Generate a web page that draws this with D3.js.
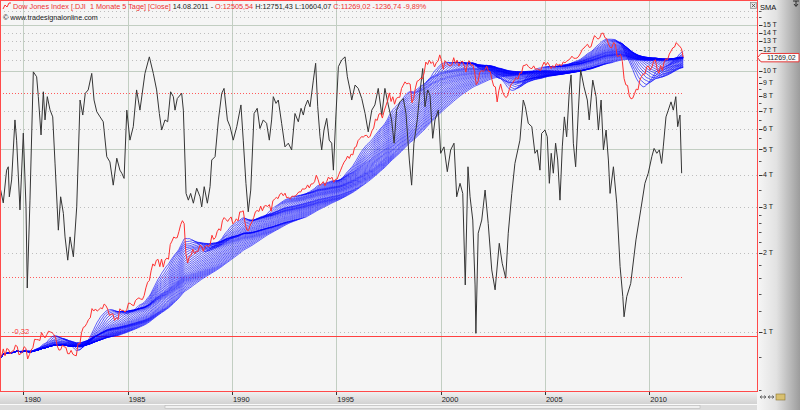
<!DOCTYPE html>
<html><head><meta charset="utf-8">
<script src="https://cdn.jsdelivr.net/npm/d3@7"></script>
<style>
html,body{margin:0;padding:0;background:#f5f5f5;overflow:hidden;}
svg{display:block;font-family:"Liberation Sans",Arial,sans-serif;}
</style></head><body>
<svg id="c" width="800" height="410"></svg>
<script>
// ---------------- DATA ----------------
const firstMonth = { year: 1978, month: 10 }; // Nov 1978 (0-based month)
const closes = [
  799, 805,
  859, 809, 862, 855, 822, 842, 846, 888, 878, 816, 822, 839,
  876, 863, 786, 817, 851, 868, 935, 933, 932, 925, 993, 964,
  947, 975, 1004, 998, 992, 977, 953, 882, 850, 853, 889, 875,
  871, 824, 823, 848, 820, 812, 809, 901, 896, 992, 1039, 1047,
  1076, 1113, 1130, 1226, 1200, 1222, 1199, 1216, 1233, 1225, 1276, 1259,
  1221, 1155, 1165, 1171, 1105, 1132, 1115, 1224, 1207, 1207, 1189, 1212,
  1287, 1284, 1267, 1258, 1315, 1336, 1348, 1334, 1329, 1375, 1472, 1547,
  1571, 1710, 1819, 1784, 1877, 1893, 1775, 1898, 1768, 1878, 1914, 1896,
  2158, 2224, 2305, 2286, 2292, 2419, 2572, 2663, 2596, 1994, 1834, 1939,
  1958, 2072, 1988, 2032, 2031, 2142, 2129, 2032, 2113, 2149, 2115, 2169,
  2342, 2258, 2294, 2419, 2480, 2440, 2661, 2737, 2693, 2645, 2706, 2753,
  2591, 2627, 2707, 2657, 2877, 2881, 2905, 2615, 2453, 2442, 2560, 2634,
  2737, 2882, 2914, 2888, 3028, 2907, 3025, 3044, 3017, 3069, 2895, 3169,
  3224, 3268, 3236, 3359, 3397, 3319, 3394, 3257, 3272, 3226, 3306, 3301,
  3310, 3371, 3435, 3428, 3527, 3516, 3540, 3651, 3555, 3681, 3684, 3754,
  3978, 3832, 3636, 3682, 3758, 3625, 3765, 3913, 3843, 3908, 3739, 3834,
  3844, 4011, 4158, 4321, 4465, 4556, 4709, 4611, 4789, 4756, 5075, 5117,
  5395, 5486, 5588, 5569, 5643, 5655, 5529, 5616, 5882, 6029, 6522, 6448,
  6813, 6878, 6584, 7009, 7331, 7673, 8223, 7622, 7945, 7442, 7823, 7908,
  7907, 8546, 8800, 9063, 8900, 8952, 8883, 7539, 7843, 8592, 9117, 9181,
  9359, 9307, 9786, 10789, 10560, 10971, 10655, 10829, 10337, 10729, 10878, 11497,
  10941, 10128, 10922, 10734, 10522, 10448, 10522, 11215, 10651, 10971, 10415, 10788,
  10887, 10495, 9879, 10735, 10912, 10502, 10523, 9950, 8848, 9075, 9852, 10021,
  9920, 10106, 10404, 9946, 9925, 9243, 8737, 8664, 7592, 8397, 8896, 8342,
  8054, 7891, 7992, 8480, 8850, 8985, 9234, 9416, 9275, 9801, 9782, 10454,
  10488, 10584, 10358, 10226, 10188, 10435, 10140, 10174, 10080, 10027, 10428, 10783,
  10490, 10766, 10504, 10193, 10467, 10275, 10641, 10482, 10569, 10440, 10806, 10718,
  10865, 10993, 11109, 11367, 11168, 11150, 11186, 11381, 11679, 12081, 12222, 12463,
  12622, 12269, 12354, 13063, 13628, 13409, 13212, 13358, 13896, 13930, 13372, 13265,
  12650, 12266, 12263, 12820, 12638, 11350, 11378, 11544, 10851, 9325, 8829, 8776,
  8001, 7800, 7850, 8168, 8500, 8447, 9172, 9496, 9712, 9713, 10345, 10428,
  10067, 10325, 10857, 11009, 10137, 9774, 10466, 10015, 10788, 11118, 11006, 11578,
  11892, 12226, 12320, 12811, 12570, 12414, 12143, 11269
];
const smaPeriods = [12,14,16,18,20,22,24,26,28,30,32,34,36,38,40,42,44,46,48,50,52,54,56,58,60,62,64,66,68,70];

const oscYears = [
  1978.88,1979.04,1979.20,1979.28,1979.33,1979.44,1979.60,1979.68,1979.84,1980.00,
  1980.13,1980.19,1980.32,1980.48,1980.64,1980.72,1980.85,1980.96,1981.04,1981.15,
  1981.28,1981.41,1981.52,1981.68,1981.79,1981.92,1982.00,1982.13,1982.24,1982.40,
  1982.56,1982.72,1982.85,1982.97,1983.11,1983.28,1983.39,1983.52,1983.68,1983.83,
  1984.00,1984.15,1984.31,1984.48,1984.63,1984.72,1984.83,1984.96,1985.11,1985.27,
  1985.43,1985.59,1985.83,1986.04,1986.23,1986.39,1986.52,1986.63,1986.79,1986.92,
  1987.06,1987.19,1987.27,1987.38,1987.59,1987.67,1987.80,1987.91,1988.02,1988.15,
  1988.31,1988.47,1988.55,1988.67,1988.82,1988.95,1989.03,1989.19,1989.35,1989.51,
  1989.62,1989.78,1989.91,1990.06,1990.23,1990.43,1990.54,1990.67,1990.78,1990.90,
  1991.06,1991.21,1991.34,1991.50,1991.66,1991.79,1991.90,1991.98,1992.11,1992.22,
  1992.38,1992.54,1992.70,1992.86,1993.02,1993.18,1993.31,1993.42,1993.50,1993.63,
  1993.74,1993.90,1994.01,1994.11,1994.22,1994.30,1994.41,1994.54,1994.66,1994.78,
  1994.86,1994.97,1995.10,1995.26,1995.42,1995.53,1995.66,1995.74,1995.90,1996.05,
  1996.22,1996.38,1996.53,1996.70,1996.85,1997.01,1997.18,1997.33,1997.49,1997.65,
  1997.77,1997.89,1998.05,1998.21,1998.34,1998.50,1998.61,1998.72,1998.88,1999.01,
  1999.14,1999.25,1999.38,1999.49,1999.62,1999.73,1999.89,2000.00,2000.16,2000.32,
  2000.48,2000.64,2000.77,2000.93,2001.06,2001.18,2001.31,2001.41,2001.54,2001.65,
  2001.69,2001.80,2001.97,2002.13,2002.28,2002.45,2002.61,2002.81,2002.95,2003.12,
  2003.24,2003.41,2003.56,2003.80,2003.96,2004.06,2004.20,2004.37,2004.52,2004.63,
  2004.76,2004.84,2005.00,2005.11,2005.21,2005.30,2005.40,2005.51,2005.61,2005.72,
  2005.83,2005.93,2006.04,2006.17,2006.25,2006.36,2006.47,2006.60,2006.71,2006.87,
  2007.03,2007.12,2007.29,2007.45,2007.56,2007.69,2007.80,2007.93,2008.04,2008.12,
  2008.28,2008.44,2008.60,2008.73,2008.79,2008.92,2009.11,2009.36,2009.59,2009.79,
  2009.95,2010.12,2010.23,2010.36,2010.48,2010.59,2010.67,2010.80,2010.91,2011.04,
  2011.15,2011.27,2011.36,2011.47,2011.55
];
const oscValues = [
  49.5,44.2,54.9,56.0,46.2,51.7,71.3,64.7,41.9,67.0,
  42.9,16.4,45.1,87.0,85.4,78.9,66.4,80.5,71.3,78.9,
  74.6,72.3,57.2,35.3,46.2,40.8,33.1,25.5,33.1,26.6,
  42.9,77.8,72.9,80.0,81.1,86.5,77.8,74.0,72.3,70.7,
  59.3,57.6,50.0,58.8,54.9,53.9,52.2,74.5,64.7,69.1,
  81.1,74.5,86.5,91.9,86.5,81.1,73.4,68.0,71.3,70.7,
  80.5,78.9,74.5,78.3,80.0,74.5,47.3,45.1,47.3,44.1,
  49.0,46.2,42.9,49.5,44.1,49.5,58.2,59.3,71.3,80.0,
  81.6,71.3,69.1,64.7,69.1,76.2,64.7,50.6,41.3,48.4,
  73.4,75.1,68.5,71.3,70.2,64.7,71.3,78.9,76.7,77.8,
  70.2,62.5,63.7,61.5,73.4,70.7,75.1,72.9,75.6,77.8,
  75.6,84.3,89.8,75.6,65.8,61.5,68.0,71.8,64.7,63.7,
  54.9,71.3,88.7,90.9,91.9,85.4,81.1,77.8,82.7,81.6,
  78.3,73.4,67.4,74.5,76.2,81.6,72.9,81.6,76.2,71.3,
  63.7,74.5,77.2,78.3,73.4,58.2,50.0,63.7,71.3,80.5,
  88.1,75.6,81.1,79.4,65.3,71.3,74.5,60.4,62.5,54.4,
  61.5,63.7,46.2,50.6,47.3,17.4,56.0,46.2,38.6,17.4,
  1.6,34.3,38.6,48.4,37.5,22.3,15.8,31.0,24.5,19.6,
  34.3,47.3,57.1,64.7,77.8,75.6,70.2,69.1,60.4,61.5,
  54.9,66.9,68.0,65.8,50.6,60.4,53.9,63.7,58.2,45.1,
  62.5,72.3,65.8,81.1,86.0,63.7,56.0,74.5,87.6,82.1,
  77.8,71.3,84.3,78.9,68.0,77.8,61.5,68.0,58.2,47.3,
  56.0,44.1,23.4,13.6,7.0,13.6,17.9,32.1,41.9,50.6,
  53.9,59.3,62.0,60.4,61.5,57.1,62.5,72.3,74.5,77.2,
  74.5,78.9,69.1,72.9,53.9
];
const oscBands = [80, 20];
const oscRef = { value: 0.7, label: "-0,32" };

const yearTicks = [1980, 1985, 1990, 1995, 2000, 2005, 2010];
const priceTicks = [1000,2000,3000,4000,5000,6000,7000,8000,9000,10000,11000,12000,13000,14000,15000];
const priceTickLabels = ["1 T","2 T","3 T","4 T","5 T","6 T","7 T","8 T","9 T","10 T","11 T","12 T","13 T","14 T","15 T"];
const minorTicks = [600,800,1200,1400,1600,1800,2200,2400,2600,2800,3500,4500,5500,6500,7500,8500,9500,16000,17000];
const solidGrid = [5000, 10000, 15000];
const dottedGrid = [1000,2000,3000,4000,6000,7000,11000,12000,13000,14000,16000,17000];
const lastLabel = "11269,02";
const headerParts = [
  {t:"Dow Jones Index [.DJI  1 Monate 5 Tage] [Close] ", red:true},
  {t:"14.08.2011 - ", red:false},
  {t:"O:12505,54 ", red:true},
  {t:"H:12751,43 L:10604,07 ", red:false},
  {t:"C:11269,02 -1236,74 -9,89%", red:true}
];
const copyright = "© www.tradesignalonline.com";

// ---------------- LAYOUT ----------------
const PL = 0, PR = 757, PT = 0, PB = 391;
const svg = d3.select("#c");
const defs = svg.append("defs");
const gr = defs.append("linearGradient").attr("id","gr").attr("x1","0").attr("x2","1").attr("y1","0").attr("y2","0");
gr.append("stop").attr("offset","0").attr("stop-color","#f6f6f6");
gr.append("stop").attr("offset","0.45").attr("stop-color","#e2e2e2");
gr.append("stop").attr("offset","1").attr("stop-color","#9c9c9c");
const gb = defs.append("linearGradient").attr("id","gb").attr("x1","0").attr("x2","0").attr("y1","0").attr("y2","1");
gb.append("stop").attr("offset","0").attr("stop-color","#f2f2f2");
gb.append("stop").attr("offset","1").attr("stop-color","#d2d2d2");
defs.append("clipPath").attr("id","clip").append("rect").attr("x",PL).attr("y",PT).attr("width",PR-PL).attr("height",PB-PT);

const x = d3.scaleLinear().domain([1980, 2010]).range([23.3, 649.3]);
const y = d3.scaleLog().domain([1000, 10000]).range([331.7, 70.7]);
const yo = d3.scaleLinear().domain(oscBands.slice().reverse()).range([277, 93.3]);

// backgrounds
svg.append("rect").attr("x",0).attr("y",0).attr("width",800).attr("height",410).attr("fill","#f5f5f5");
svg.append("rect").attr("x",PR).attr("y",0).attr("width",800-PR).attr("height",410).attr("fill","url(#gr)");
svg.append("rect").attr("x",0).attr("y",PB).attr("width",PR).attr("height",13).attr("fill","url(#gb)");
svg.append("rect").attr("x",0).attr("y",404).attr("width",PR).attr("height",6).attr("fill","#dcdcdc");
svg.append("rect").attr("x",0).attr("y",404).attr("width",PR).attr("height",1).attr("fill","#fafafa");
svg.append("rect").attr("x",165).attr("y",405.5).attr("width",535).attr("height",3).attr("fill","#f0f0f0").attr("stroke","#b8b8b8").attr("stroke-width",0.6);

const plot = svg.append("g").attr("clip-path","url(#clip)");
plot.append("rect").attr("x",PL).attr("y",PT).attr("width",PR-PL).attr("height",PB-PT).attr("fill","#f5f5f5");

// grid
plot.selectAll(".vg").data(yearTicks).join("line")
  .attr("x1",d=>Math.round(x(d))+0.5).attr("x2",d=>Math.round(x(d))+0.5)
  .attr("y1",PT).attr("y2",PB).attr("stroke","#c2cec2").attr("stroke-width",1);
plot.selectAll(".hgd").data(dottedGrid).join("line")
  .attr("x1",PL).attr("x2",PR).attr("y1",d=>Math.round(y(d))+0.5).attr("y2",d=>Math.round(y(d))+0.5)
  .attr("stroke","#bdbdbd").attr("stroke-width",1).attr("stroke-dasharray","1,3");
plot.selectAll(".hgs").data(solidGrid).join("line")
  .attr("x1",PL).attr("x2",PR).attr("y1",d=>Math.round(y(d))+0.5).attr("y2",d=>Math.round(y(d))+0.5)
  .attr("stroke","#c2cec2").attr("stroke-width",1);

// oscillator bands & reference line
const tOf = i => firstMonth.year + (firstMonth.month + 0.5 + i) / 12;
const lastX = x(tOf(closes.length - 1));
plot.selectAll(".band").data(oscBands).join("line")
  .attr("x1",PL).attr("x2",lastX).attr("y1",d=>Math.round(yo(d))+0.5).attr("y2",d=>Math.round(yo(d))+0.5)
  .attr("stroke","#ff5a5a").attr("stroke-width",1).attr("stroke-dasharray","1,2");
plot.append("line").attr("x1",PL).attr("x2",PR)
  .attr("y1",Math.round(yo(oscRef.value))+0.5).attr("y2",Math.round(yo(oscRef.value))+0.5)
  .attr("stroke","#ff4040").attr("stroke-width",1);
plot.append("text").attr("x",12).attr("y",yo(oscRef.value)-2).attr("font-size",7.5)
  .attr("fill","#ff3030").text(oscRef.label);

// price series points
const pricePts = closes.map((v,i)=>({t:tOf(i), v}));

// SMA ribbon
const line = d3.line().x(d=>x(d.t)).y(d=>y(d.v));
const smaSeries = smaPeriods.map(p => closes.map((v,i)=>{
  const s = Math.max(0, i-p+1);
  return {t: tOf(i), v: d3.mean(closes.slice(s, i+1))};
}));
plot.append("g").selectAll("path").data(smaSeries).join("path")
  .attr("d", line).attr("fill","none").attr("stroke","#0000ff").attr("stroke-width",0.7).attr("stroke-opacity",0.9);

// oscillator
const oscPts = oscYears.map((t,i)=>({t, v: oscValues[i]}));
plot.append("path").datum(oscPts)
  .attr("d", d3.line().x(d=>x(d.t)).y(d=>yo(d.v)))
  .attr("fill","none").attr("stroke","#353535").attr("stroke-width",1);

// price line
plot.append("path").datum(pricePts).attr("d", line)
  .attr("fill","none").attr("stroke","#ff3030").attr("stroke-width",1);

// borders
svg.append("rect").attr("x",PL+0.5).attr("y",PT+0.5).attr("width",PR-PL).attr("height",PB-PT)
  .attr("fill","none").attr("stroke","#ff4a4a").attr("stroke-width",1);

// x-axis ticks and labels
const xa = svg.append("g");
xa.selectAll("line").data(yearTicks).join("line")
  .attr("x1",d=>Math.round(x(d))+0.5).attr("x2",d=>Math.round(x(d))+0.5)
  .attr("y1",PB+1).attr("y2",PB+4).attr("stroke","#333");
xa.selectAll("text").data(yearTicks).join("text")
  .attr("x",d=>x(d)+1).attr("y",401.5).attr("font-size",7.5).attr("fill","#222").text(d=>d);

// right axis
const ly = y(closes[closes.length-1]);
const ya = svg.append("g");
ya.selectAll(".mj").data(priceTicks).join("line")
  .attr("x1",PR+2).attr("x2",PR+5.5).attr("y1",d=>Math.round(y(d))+0.5).attr("y2",d=>Math.round(y(d))+0.5)
  .attr("stroke","#333");
ya.selectAll(".mn").data(minorTicks).join("line")
  .attr("x1",PR+2).attr("x2",PR+4.5).attr("y1",d=>Math.round(y(d))+0.5).attr("y2",d=>Math.round(y(d))+0.5)
  .attr("stroke","#555");
const visibleTicks = priceTicks.map((d,i)=>({d, lab: priceTickLabels[i]})).filter(o => Math.abs(y(o.d) - ly) > 5);
ya.selectAll("text").data(visibleTicks).join("text")
  .attr("x",PR+6).attr("y",o=>y(o.d)+2.3).attr("font-size",7).attr("fill","#222")
  .text(o=>o.lab);

// last value label
svg.append("path").attr("d",`M${PR+0.5},${ly+0.5} L${PR+4},${ly-3.7} H799 V${ly+4.7} H${PR+4} Z`)
  .attr("fill","#fbfbfb").attr("stroke","#e83838").attr("stroke-width",1);
svg.append("text").attr("x",767).attr("y",ly+3).attr("font-size",7).attr("fill","#222").text(lastLabel);

// header: one text with coloured tspans, font size fitted to the original width
svg.append("polyline").attr("points","3,9 5,5 7,7 9,3 11,3").attr("fill","none").attr("stroke","#ff3030").attr("stroke-width",1);
const h1 = svg.append("text").attr("x",13).attr("y",9).attr("font-size",8).attr("xml:space","preserve");
h1.selectAll("tspan").data(headerParts).join("tspan")
  .attr("fill",d=>d.red ? "#ee3030" : "#222").text(d=>d.t);
const w1 = h1.node().getComputedTextLength();
h1.attr("font-size", 8 * 414 / w1);
const h2 = svg.append("text").attr("x",3).attr("y",19.5).attr("font-size",8).attr("fill","#222").text(copyright);
const w2 = h2.node().getComputedTextLength();
h2.attr("font-size", 8 * 95 / w2);

// top right controls
svg.append("rect").attr("x",750.5).attr("y",2.5).attr("width",6).attr("height",6).attr("fill","#e8e8e8").attr("stroke","#888").attr("stroke-width",0.7);
svg.append("path").attr("d","M751.8,3.8 L755.2,7.2 M755.2,3.8 L751.8,7.2").attr("stroke","#444").attr("stroke-width",0.8);
svg.append("text").attr("x",760).attr("y",9.5).attr("font-size",7.5).attr("fill","#111").text("SMA");
svg.append("path").attr("d","M793,1 L799,1 M796,1 L796,6 M794,4 L796,6.5 L798,4").attr("stroke","#222").attr("fill","none").attr("stroke-width",0.9);

// bottom right icons
const ic = svg.append("g").attr("stroke","#555").attr("stroke-width",0.8).attr("fill","none");
ic.append("path").attr("d","M760,397 H766 M760,397 L762,395.5 M760,397 L762,398.5 M766,397 L764,395.5 M766,397 L764,398.5");
ic.append("path").attr("d","M768,397 H774 M768,397 L770,395.5 M768,397 L770,398.5 M774,397 L772,395.5 M774,397 L772,398.5");
svg.append("rect").attr("x",776).attr("y",394).attr("width",9).attr("height",6).attr("fill","#d8c070").attr("stroke","#8a7430").attr("stroke-width",0.6);
</script>
</body></html>
